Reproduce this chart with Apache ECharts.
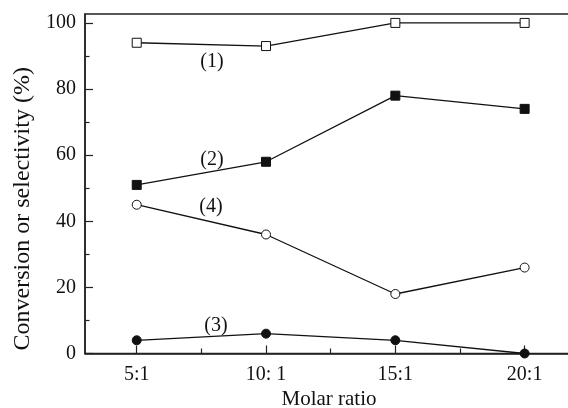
<!DOCTYPE html>
<html>
<head>
<meta charset="utf-8">
<script src="https://cdn.jsdelivr.net/npm/echarts@6/dist/echarts.min.js"></script>
<style>
  html, body { margin: 0; padding: 0; background: #fff; }
  #main { width: 568px; height: 408px; }
</style>
</head>
<body>
<div id="main"></div>
<script>
// molar ratios (x positions) and their tick labels
const ratios = [5, 10, 15, 20];
const ratioLabels = ["5:1", "10: 1", "15:1", "20:1"];
const minorRatios = [7.5, 12.5, 17.5];

// curves (1)..(4)
const curve1 = [94, 93, 100, 100];
const curve2 = [51, 58, 78, 74];
const curve3 = [4, 6, 4, 0];
const curve4 = [45, 36, 18, 26];

const yTicks = [0, 20, 40, 60, 80, 100];
const yMinorTicks = [10, 30, 50, 70, 90];

const font = "Liberation Serif";
const ink = "#111";

const toPoints = (vals) => ratios.map((r, i) => [r, vals[i]]);

const chart = echarts.init(document.getElementById("main"));

const makeSeries = (name, vals, symbol, filled) => ({
  name: name,
  type: "line",
  data: toPoints(vals),
  symbol: symbol,
  symbolSize: 9,
  showAllSymbol: true,
  lineStyle: { color: ink, width: 1.3 },
  itemStyle: {
    color: filled ? ink : "#fff",
    borderColor: ink,
    borderWidth: 1,
  },
  z: 3,
});

const option = {
  animation: false,
  grid: {
    left: 85,
    top: 14,
    width: 488,
    height: 339.5,
    outerBoundsMode: "none",
    show: true,
    borderColor: "#222",
    borderWidth: 1.5,
  },
  xAxis: [
    {
      type: "value",
      min: 3,
      max: 21.87,
      position: "bottom",
      name: "Molar ratio",
      nameLocation: "middle",
      nameGap: 33,
      nameTextStyle: { fontFamily: font, fontSize: 21, color: ink },
      axisLine: { lineStyle: { color: "#222", width: 1.5 } },
      axisTick: { inside: true, length: 8, customValues: ratios, lineStyle: { color: "#222", width: 1.2 } },
      axisLabel: {
        customValues: ratios,
        margin: 11,
        fontFamily: font,
        fontSize: 20,
        color: ink,
        formatter: (v) => ratioLabels[ratios.indexOf(v)] || "",
      },
      splitLine: { show: false },
    },
    {
      type: "value",
      min: 3,
      max: 21.87,
      position: "bottom",
      axisLine: { show: false },
      axisTick: { inside: true, length: 5, customValues: minorRatios, lineStyle: { color: "#222", width: 1.2 } },
      axisLabel: { show: false },
      splitLine: { show: false },
    },
  ],
  yAxis: [
    {
      type: "value",
      min: 0,
      max: 102.7,
      position: "left",
      name: "Conversion or selectivity (%)",
      nameLocation: "middle",
      nameGap: 50,
      nameTextStyle: { fontFamily: font, fontSize: 24, color: ink, padding: [0, 50, 0, 0] },
      axisLine: { lineStyle: { color: "#222", width: 1.5 } },
      axisTick: { inside: true, length: 8, customValues: yTicks, lineStyle: { color: "#222", width: 1.2 } },
      axisLabel: { customValues: yTicks, margin: 9, fontFamily: font, fontSize: 20, color: ink },
      splitLine: { show: false },
    },
    {
      type: "value",
      min: 0,
      max: 102.7,
      position: "left",
      axisLine: { show: false },
      axisTick: { inside: true, length: 4.5, customValues: yMinorTicks, lineStyle: { color: "#222", width: 1.2 } },
      axisLabel: { show: false },
      splitLine: { show: false },
    },
  ],
  graphic: [
    { type: "text", x: 212, y: 62, style: { text: "(1)", font: "20px " + font, fill: ink, align: "center", verticalAlign: "middle" } },
    { type: "text", x: 212, y: 160, style: { text: "(2)", font: "20px " + font, fill: ink, align: "center", verticalAlign: "middle" } },
    { type: "text", x: 211, y: 207, style: { text: "(4)", font: "20px " + font, fill: ink, align: "center", verticalAlign: "middle" } },
    { type: "text", x: 216, y: 326, style: { text: "(3)", font: "20px " + font, fill: ink, align: "center", verticalAlign: "middle" } },
  ],
  series: [
    makeSeries("(1)", curve1, "rect", false),
    makeSeries("(2)", curve2, "rect", true),
    makeSeries("(3)", curve3, "circle", true),
    makeSeries("(4)", curve4, "circle", false),
  ],
};

chart.setOption(option);
</script>
</body>
</html>
